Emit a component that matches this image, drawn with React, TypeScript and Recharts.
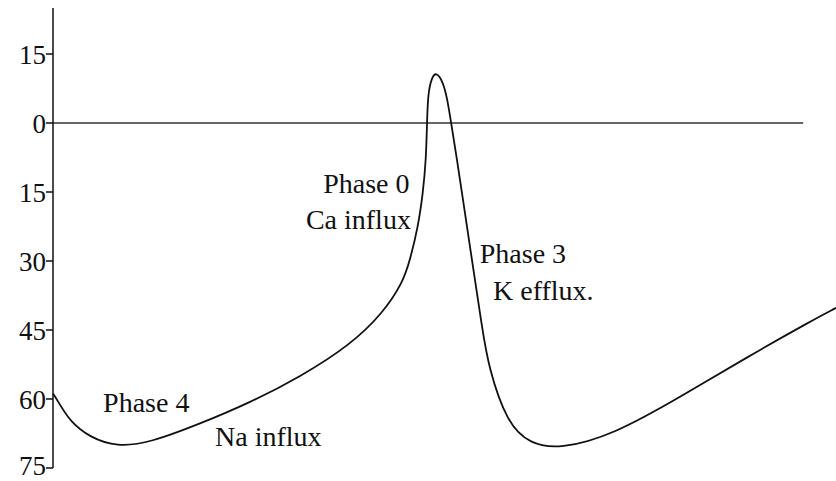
import { LineChart, Line, XAxis, YAxis, ReferenceLine, ReferenceDot } from 'recharts'

// time (arbitrary units, 0-100) and membrane potential (mV)
const times = [0, 1, 2.17, 4.73, 8.17, 12.39, 18.77, 25.16, 31.55, 37.93, 42.15, 44.7, 45.59, 46.62, 47.25, 47.64, 47.77, 47.89, 48.4, 48.91, 49.68, 50.32, 50.83, 51.6, 52.36, 53.51, 54.79, 55.6, 57.98, 60.92, 64.75, 71.52, 80.08, 88.63, 97.06, 100]
const potentials = [-58.8, -61.5, -64.8, -68.4, -70.4, -69.5, -65.4, -60.8, -55.2, -48.3, -41.3, -34.6, -29.8, -22.6, -15.2, -8, 0.2, 6.5, 10, 11, 9.5, 5.7, 0.2, -8, -16.7, -29.8, -44.3, -53, -65.2, -69.8, -70.9, -67.8, -59.6, -50.9, -42.8, -40.2]
const yTicks = [15, 0, -15, -30, -45, -60, -75]

const noteTexts = ['Phase 0', 'Ca influx', 'Phase 3', 'K efflux.', 'Phase 4', 'Na influx']
const noteX = [34.5, 32.3, 54.5, 56.2, 6.4, 20.7]
const noteY = [-15.2, -23, -30.4, -38.5, -62.8, -70.2]

const data = times.map((t, i) => ({ t, v: potentials[i] }))
const notes = noteTexts.map((text, i) => ({ text, x: noteX[i], y: noteY[i] }))

const serif = '"Liberation Serif", "Times New Roman", Times, "DejaVu Serif", serif'

export default function App() {
  return (
    <div style={{ position: 'absolute', left: 0, top: 0, background: '#fff' }}>
      <LineChart width={836} height={481} data={data} margin={{ top: 8, right: 0, left: 0, bottom: 13 }}>
        <XAxis dataKey="t" type="number" domain={[0, 100]} hide />
        <YAxis
          type="number"
          domain={[-75, 25]}
          ticks={yTicks}
          width={53}
          tickFormatter={v => String(Math.abs(v))}
          tick={{ fill: '#111', fontSize: 27, style: { fontFamily: serif } }}
          tickSize={7}
          tickMargin={0}
          axisLine={{ stroke: '#111', strokeWidth: 1.5 }}
          tickLine={{ stroke: '#111', strokeWidth: 1.5 }}
        />
        <ReferenceLine
          segment={[{ x: 0, y: 0 }, { x: 95.8, y: 0 }]}
          stroke="#666"
          strokeWidth={2}
        />
        <Line
          dataKey="v"
          type="basis"
          stroke="#111"
          strokeWidth={1.8}
          dot={false}
          isAnimationActive={false}
        />
        {notes.map(n => (
          <ReferenceDot
            key={n.text}
            x={n.x}
            y={n.y}
            r={0}
            shape={(p: any) => (
              <text x={p.cx} y={p.cy} style={{ fontFamily: serif }} fontSize={28} fill="#111">
                {n.text}
              </text>
            )}
          />
        ))}
      </LineChart>
    </div>
  )
}
